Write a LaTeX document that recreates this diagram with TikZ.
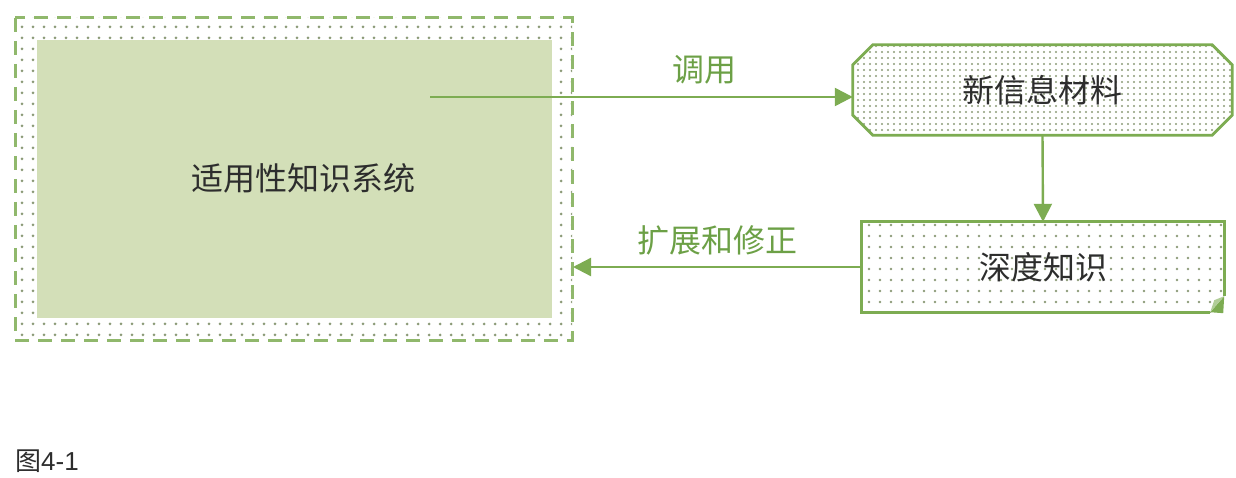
\documentclass[tikz,border=0pt]{standalone}
\usepackage{fontspec}
\setmainfont{Liberation Sans}
\newfontfamily\cjk{Noto Sans CJK SC}
\usetikzlibrary{arrows.meta,patterns.meta}
\definecolor{gline}{RGB}{125,172,82}
\definecolor{glabel}{RGB}{108,160,70}
\definecolor{gfill}{RGB}{211,223,184}
\definecolor{gdot}{RGB}{140,155,120}
\definecolor{txt}{RGB}{45,45,45}
\tikzset{
  lbl/.style={font=\cjk\fontsize{32}{34}\selectfont, text=txt},
  edgelbl/.style={font=\cjk\fontsize{32}{34}\selectfont, text=glabel},
  conn/.style={draw=gline, line width=2.4pt, -{Triangle[length=18pt,width=18pt]}},
  boxline/.style={draw=gline, line width=2.8pt},
}
\begin{document}
\begin{tikzpicture}[x=1pt,y=-1pt]
\useasboundingbox (0,0) rectangle (1236,478);
% big system box
\fill[pattern={Dots[distance=11pt,radius=1.5pt]}, pattern color=gdot] (15,18) rectangle (572,340);
\draw[draw=gline!85, line width=3pt, dash pattern=on 14pt off 9pt] (15,18) rectangle (572,340);
\node[fill=gfill, minimum width=515pt, minimum height=278pt, inner sep=0pt] (sys) at (294.5,179) {};
\node[lbl] (systxt) at (303,178) {适用性知识系统};
% octagon
\node[minimum width=379pt, minimum height=90pt, inner sep=0pt] (oct) at (1042.5,90) {};
\filldraw[boxline, line join=miter, pattern={Dots[distance=6pt,radius=1.2pt]}, pattern color=gdot]
  ([xshift=20pt]oct.north west) -- ([xshift=-20pt]oct.north east) -- ([yshift=-20pt]oct.north east)
  -- ([yshift=20pt]oct.south east) -- ([xshift=-20pt]oct.south east) -- ([xshift=20pt]oct.south west)
  -- ([yshift=20pt]oct.south west) -- ([yshift=-20pt]oct.north west) -- cycle;
\node[lbl] (octtxt) at (oct.center) {新信息材料};
% deep knowledge box with folded corner
\node[minimum width=362pt, minimum height=90pt, inner sep=0pt, pattern={Dots[distance=11pt,radius=1.4pt]}, pattern color=gdot] (deep) at (1043,267) {};
\draw[boxline, line join=miter] ([yshift=16pt]deep.south east) -- (deep.north east) -- (deep.north west) -- (deep.south west) -- ([xshift=-14pt]deep.south east);
\fill[gline] ([yshift=16pt]deep.south east) -- ([xshift=-14pt]deep.south east) -- ([xshift=-1pt,yshift=-1pt]deep.south east) -- cycle;
\fill[gline!60] ([yshift=16pt]deep.south east) -- ([xshift=-14pt]deep.south east) -- ([xshift=-10pt,yshift=12pt]deep.south east) -- cycle;
\node[lbl] (deeptxt) at (deep.center) {深度知识};
% connectors
\coordinate (start) at (430,97);
\draw[conn] (start) -- (start -| oct.west) node[edgelbl, pos=0.65, above=8pt] {调用};
\draw[conn] (oct.south) -- (deep.north);
\draw[conn] (deep.west) -- (deep.west -| 573,0) node[edgelbl, midway, above=7pt] {扩展和修正};
% caption
\node[font=\fontsize{26}{28}\selectfont, text=txt, anchor=west, inner sep=0pt] (cap) at (15,461) {{\cjk 图}4-1};
\end{tikzpicture}
\end{document}
